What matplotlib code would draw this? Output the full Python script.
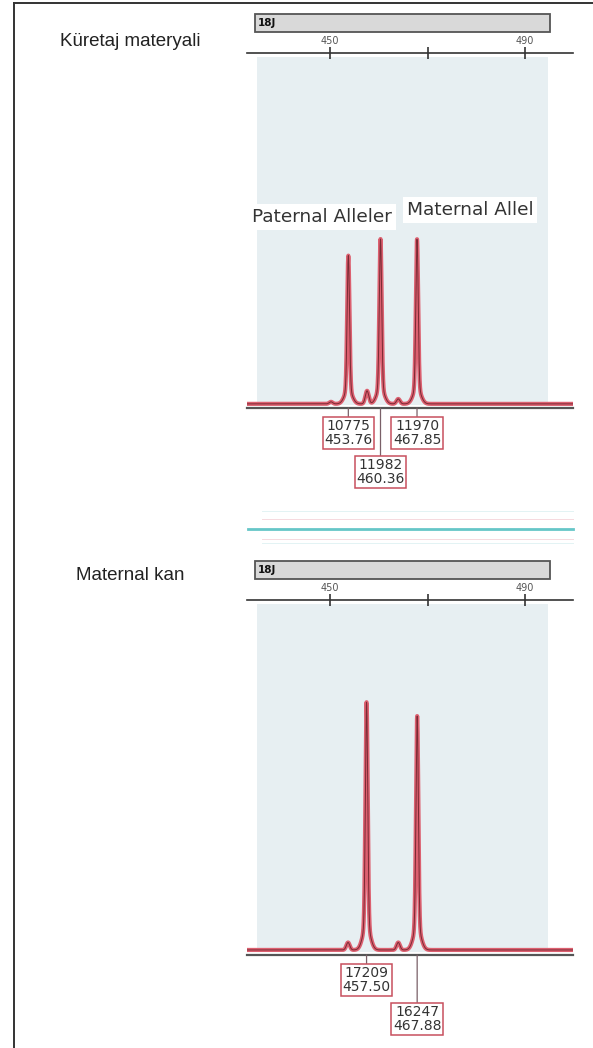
import numpy as np
import matplotlib
matplotlib.use("Agg")
import matplotlib.pyplot as plt
from matplotlib.lines import Line2D
from matplotlib.patches import Rectangle

# peak data (size in bp, height in RFU)
top_sizes = [453.76, 460.36, 467.85]
top_heights = [10775, 11982, 11970]
top_rows = [0, 1, 0]
top_minor_sizes = [450.2, 457.6, 464.0]
top_minor_heights = [150, 950, 360]

bot_sizes = [457.50, 467.88]
bot_heights = [17209, 16247]
bot_rows = [0, 1]
bot_minor_sizes = [453.7, 464.0]
bot_minor_heights = [520, 520]

tick_values = [450, 470, 490]
tick_labels = ["450", "", "490"]
marker_name = "18J"

W, H = 593, 1048


def fx(x):
    return x / W


def fy(y):
    return 1 - y / H


def trace(x, sizes, heights, msizes, mheights):
    y = np.zeros_like(x)
    for p, h in zip(sizes, heights):
        y += 0.9 * h * np.exp(-0.5 * ((x - p) / 0.24) ** 2)
        y += 0.1 * h * np.exp(-0.5 * ((x - p) / 0.75) ** 2)
    for p, h in zip(msizes, mheights):
        y += h * np.exp(-0.5 * ((x - p) / 0.35) ** 2)
    return y


fig = plt.figure(figsize=(W / 100, H / 100), dpi=100)

# frame
fig.add_artist(Line2D([fx(13.5), fx(13.5)], [0, fy(3)], color="#333333", lw=1.4))
fig.add_artist(Line2D([fx(13.5), 1], [fy(3), fy(3)], color="#333333", lw=1.4))

# separator between the two panels
fig.add_artist(Line2D([fx(248), fx(573)], [fy(529), fy(529)], color="#66c6c8", lw=2))
for yy, c in [(519, "#f6d9de"), (539, "#f6d9de"), (511, "#e3f3f4"), (543, "#e3f3f4")]:
    fig.add_artist(Line2D([fx(262), fx(573)], [fy(yy), fy(yy)], color=c, lw=0.7))

fig.text(fx(130), fy(41), "Küretaj materyali", family="Liberation Sans",
         fontsize=13.5, color="#222222", ha="center", va="center")
fig.text(fx(130), fy(575), "Maternal kan", family="Liberation Sans",
         fontsize=13.5, color="#222222", ha="center", va="center")

x_left = 450 - (330 - 247) / 4.875
x_right = 450 + (573 - 330) / 4.875
xs = np.linspace(x_left, x_right, 4000)


def panel(top_px, base_px, ylim, sizes, heights, rows, msizes, mheights, bar_top):
    ax = fig.add_axes([fx(247), fy(base_px), 326 / W, (base_px - top_px) / H])
    ax.set_xlim(x_left, x_right)
    ax.set_ylim(*ylim)
    ax.set_facecolor("none")
    ax.axvspan(435.1, 494.7, ymin=3.5 / (base_px - top_px),
               ymax=1 - 4 / (base_px - top_px), color="#e7eff2", lw=0, zorder=0)

    y = trace(xs, sizes, heights, msizes, mheights)
    ax.plot(xs, y, color="#dc6070", lw=3, solid_joinstyle="round", zorder=3)
    ax.plot(xs, y, color="#7a2a34", lw=0.7, zorder=4)

    ax.xaxis.tick_top()
    ax.set_xticks(tick_values)
    ax.set_xticklabels(tick_labels)
    ax.tick_params(axis="x", direction="inout", length=8, width=1.1,
                   color="#222222", labelsize=7, labelcolor="#555555", pad=1)
    ax.set_yticks([])
    for s in ["left", "right"]:
        ax.spines[s].set_visible(False)
    ax.spines["top"].set_color("#333333")
    ax.spines["top"].set_linewidth(1.2)
    ax.spines["bottom"].set_color("#555555")
    ax.spines["bottom"].set_linewidth(1.6)

    for p, h, r in zip(sizes, heights, rows):
        off = 25 if r == 0 else 64
        ax.annotate(f"{h}\n{p:.2f}", xy=(p, ylim[0]), xycoords="data",
                    xytext=(0, -off * 0.72), textcoords="offset points",
                    ha="center", va="center", fontsize=10, color="#333333",
                    linespacing=1.05, annotation_clip=False, zorder=6,
                    bbox=dict(boxstyle="square,pad=0.12", fc="white",
                              ec="#c8505e", lw=1.1),
                    arrowprops=dict(arrowstyle="-", color="#7a6068", lw=0.9,
                                    shrinkA=0, shrinkB=0))

    # marker bar above the axis
    fig.add_artist(Rectangle((fx(255), fy(bar_top + 18)), 295 / W, 18 / H,
                             fc="#d9d9d9", ec="#555555", lw=1.3))
    fig.text(fx(258), fy(bar_top + 9), marker_name, fontsize=7.5,
             fontweight="bold", color="#111111", ha="left", va="center")
    return ax


ax1 = panel(53, 408, (-300, 25500), top_sizes, top_heights, top_rows,
            top_minor_sizes, top_minor_heights, 14)
ax2 = panel(600, 955, (-350, 24300), bot_sizes, bot_heights, bot_rows,
            bot_minor_sizes, bot_minor_heights, 561)

r1 = 25800 / 355
ax1.text(448.4, (408 - 217) * r1 - 300, "Paternal Alleler", fontsize=13.3,
         color="#333333", ha="center", va="center", zorder=7,
         bbox=dict(boxstyle="square,pad=0.2", fc="white", ec="none"))
ax1.text(478.7, (408 - 210) * r1 - 300, "Maternal Allel", fontsize=13.3,
         color="#333333", ha="center", va="center", zorder=7,
         bbox=dict(boxstyle="square,pad=0.2", fc="white", ec="none"))

fig.savefig("out.png", dpi=100)
